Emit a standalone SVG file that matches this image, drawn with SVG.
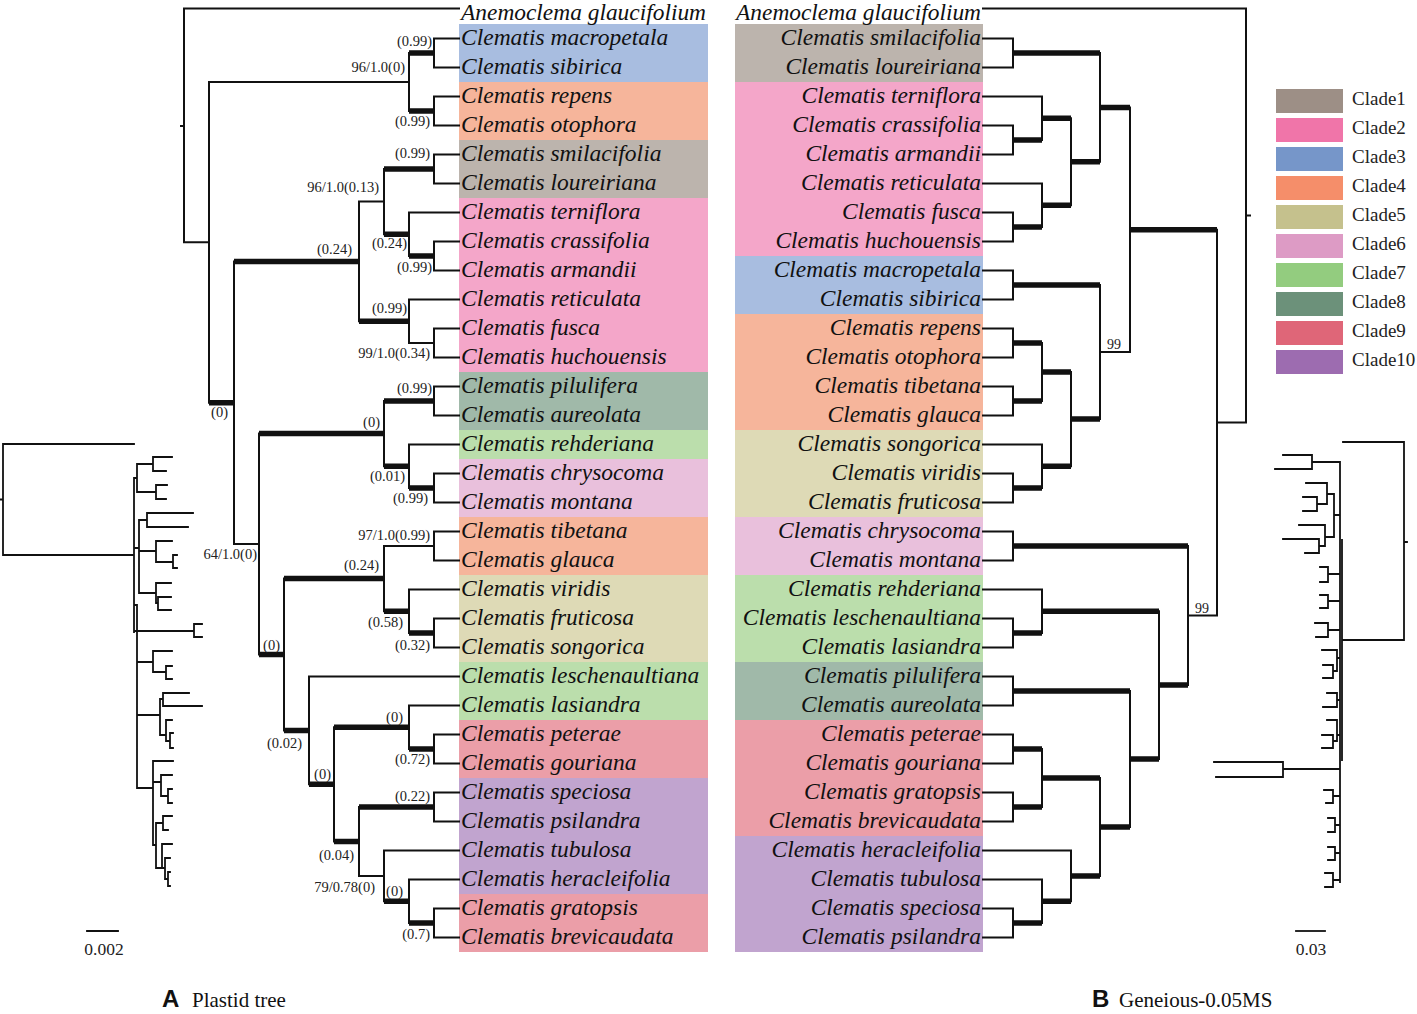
<svg xmlns="http://www.w3.org/2000/svg" width="1417" height="1014" viewBox="0 0 1417 1014">
<style>
.tx{font-family:"Liberation Serif","Times New Roman",serif;font-style:italic;font-size:23.5px;fill:#111}
.txr{font-family:"Liberation Serif","Times New Roman",serif;font-style:italic;font-size:23.5px;fill:#111;text-anchor:end}
.top{font-size:22.4px}
.lb{font-family:"Liberation Serif","Times New Roman",serif;font-size:14.5px;fill:#222;text-anchor:end}
.lbs{font-family:"Liberation Serif","Times New Roman",serif;font-size:14px;fill:#222}
.lg{font-family:"Liberation Serif","Times New Roman",serif;font-size:19px;fill:#222}
.sc{font-family:"Liberation Serif","Times New Roman",serif;font-size:17.5px;fill:#222;text-anchor:middle}
.pa{font-family:"Liberation Sans",Arial,sans-serif;font-weight:bold;font-size:24px;fill:#111}
.pt{font-family:"Liberation Serif","Times New Roman",serif;font-size:21px;fill:#111}
.thin{fill:none;stroke:#111;stroke-width:2;stroke-linecap:square}
.thick{fill:none;stroke:#111;stroke-width:5.5;stroke-linecap:butt}
.sm{fill:none;stroke:#111;stroke-width:1.8;stroke-linecap:square}
.c1{fill:#bcb4ad}.c2{fill:#f4a6c9}.c3{fill:#a8bde0}.c4{fill:#f6b59b}.c5{fill:#dedab6}
.c6{fill:#e9c0dc}.c7{fill:#bbdeac}.c8{fill:#a0b9a9}.c9{fill:#eb9ea8}.c10{fill:#c1a4cf}
.l1{fill:#9d8f86}.l2{fill:#f075a9}.l3{fill:#7696c9}.l4{fill:#f58e6a}.l5{fill:#c5c18d}
.l6{fill:#dd9bc5}.l7{fill:#93cc7f}.l8{fill:#6c917a}.l9{fill:#df6678}.l10{fill:#9d6cb0}
</style>
<rect width="1417" height="1014" fill="#ffffff"/>

<g id="bands-left">
<rect class="c3" x="459" y="24" width="249" height="58"/>
<rect class="c4" x="459" y="82" width="249" height="58"/>
<rect class="c1" x="459" y="140" width="249" height="58"/>
<rect class="c2" x="459" y="198" width="249" height="174"/>
<rect class="c8" x="459" y="372" width="249" height="58"/>
<rect class="c7" x="459" y="430" width="249" height="29"/>
<rect class="c6" x="459" y="459" width="249" height="58"/>
<rect class="c4" x="459" y="517" width="249" height="58"/>
<rect class="c5" x="459" y="575" width="249" height="87"/>
<rect class="c7" x="459" y="662" width="249" height="58"/>
<rect class="c9" x="459" y="720" width="249" height="58"/>
<rect class="c10" x="459" y="778" width="249" height="116"/>
<rect class="c9" x="459" y="894" width="249" height="58"/>
</g>
<g id="bands-right">
<rect class="c1" x="735" y="24" width="248" height="58"/>
<rect class="c2" x="735" y="82" width="248" height="174"/>
<rect class="c3" x="735" y="256" width="248" height="58"/>
<rect class="c4" x="735" y="314" width="248" height="116"/>
<rect class="c5" x="735" y="430" width="248" height="87"/>
<rect class="c6" x="735" y="517" width="248" height="58"/>
<rect class="c7" x="735" y="575" width="248" height="87"/>
<rect class="c8" x="735" y="662" width="248" height="58"/>
<rect class="c9" x="735" y="720" width="248" height="116"/>
<rect class="c10" x="735" y="836" width="248" height="116"/>
</g>

<g id="connectors">
<path class="thin" d="M184,8.5V242.3 M209,82V402.7 M409,53V111 M434,38.5V67.5 M434,96.5V125.5 M234,261.4V544 M359,201.6V321.25 M384,169V234.25 M434,154.5V183.5 M409,212.5V256 M434,241.5V270.5 M409,299.5V343 M434,328.5V357.5 M259,433.6V654.5 M384,401V466.25 M434,386.5V415.5 M409,444.5V488 M434,473.5V502.5 M284,578.6V730.4 M384,546V611.25 M434,531.5V560.5 M409,589.5V633 M434,618.5V647.5 M309,676.5V784.3 M334,727.25V841.4 M409,705.5V749 M434,734.5V763.5 M359,807V875.9 M434,792.5V821.5 M384,850.5V901.25 M409,879.5V923 M434,908.5V937.5
M184,8.5H459 M184,242.3H209 M209,82H409 M359,201.6H384 M409,343H434 M234,544H259 M384,546H434 M359,875.9H384 M181,125.9H184
M434,38.5H459 M434,67.5H459 M434,96.5H459 M434,125.5H459 M434,154.5H459 M434,183.5H459 M409,212.5H459 M434,241.5H459 M434,270.5H459 M409,299.5H459 M434,328.5H459 M434,357.5H459 M434,386.5H459 M434,415.5H459 M409,444.5H459 M434,473.5H459 M434,502.5H459 M434,531.5H459 M434,560.5H459 M409,589.5H459 M434,618.5H459 M434,647.5H459 M309,676.5H459 M409,705.5H459 M434,734.5H459 M434,763.5H459 M434,792.5H459 M434,821.5H459 M384,850.5H459 M409,879.5H459 M434,908.5H459 M434,937.5H459"/>
<path class="thick" d="M409,53H434 M409,111H434 M384,169H434 M409,256H434 M384,234.25H409 M359,321.25H409 M234,261.4H359 M209,402.7H234 M384,401H434 M409,488H434 M384,466.25H409 M259,433.6H384 M409,633H434 M384,611.25H409 M284,578.6H384 M409,749H434 M334,727.25H409 M359,807H434 M409,923H434 M384,901.25H409 M334,841.4H359 M309,784.3H334 M284,730.4H309 M259,654.5H284"/>

<path class="thin" d="M1246,8.5V422.6 M1217,229.7V615.6 M1130,107.4V352 M1100,53V161.75 M1013,38.5V67.5 M1071,118.25V205.25 M1042,96.5V140 M1013,125.5V154.5 M1042,183.5V227 M1013,212.5V241.5 M1100,285V419.1 M1013,270.5V299.5 M1071,372V466.25 M1042,343V401 M1013,328.5V357.5 M1013,386.5V415.5 M1042,444.5V488 M1013,473.5V502.5 M1188,546V685.1 M1013,531.5V560.5 M1159,611.25V759 M1042,589.5V633 M1013,618.5V647.5 M1130,691V826.9 M1013,676.5V705.5 M1100,778V875.9 M1042,749V807 M1013,734.5V763.5 M1013,792.5V821.5 M1071,850.5V901.25 M1042,879.5V923 M1013,908.5V937.5
M983,8.5H1246 M1100,352H1130 M1188,615.6H1217 M1217,422.6H1246 M1246,215.6H1250
M983,38.5H1013 M983,67.5H1013 M983,96.5H1042 M983,125.5H1013 M983,154.5H1013 M983,183.5H1042 M983,212.5H1013 M983,241.5H1013 M983,270.5H1013 M983,299.5H1013 M983,328.5H1013 M983,357.5H1013 M983,386.5H1013 M983,415.5H1013 M983,444.5H1042 M983,473.5H1013 M983,502.5H1013 M983,531.5H1013 M983,560.5H1013 M983,589.5H1042 M983,618.5H1013 M983,647.5H1013 M983,676.5H1013 M983,705.5H1013 M983,734.5H1013 M983,763.5H1013 M983,792.5H1013 M983,821.5H1013 M983,850.5H1071 M983,879.5H1042 M983,908.5H1013 M983,937.5H1013"/>
<path class="thick" d="M1013,53H1100 M1013,140H1042 M1042,118.25H1071 M1013,227H1042 M1042,205.25H1071 M1071,161.75H1100 M1100,107.4H1130 M1013,285H1100 M1013,343H1042 M1013,401H1042 M1042,372H1071 M1013,488H1042 M1042,466.25H1071 M1071,419.1H1100 M1130,229.7H1217 M1013,546H1188 M1013,633H1042 M1042,611.25H1159 M1013,691H1130 M1013,749H1042 M1013,807H1042 M1042,778H1100 M1013,923H1042 M1042,901.25H1071 M1071,875.9H1100 M1100,826.9H1130 M1130,759H1159 M1159,685.1H1188"/>
</g>

<g id="support-left">
<text class="lb" x="432" y="46">(0.99)</text>
<text class="lb" x="405" y="72">96/1.0(0)</text>
<text class="lb" x="430" y="126">(0.99)</text>
<text class="lb" x="430" y="158">(0.99)</text>
<text class="lb" x="379" y="192">96/1.0(0.13)</text>
<text class="lb" x="352" y="254">(0.24)</text>
<text class="lb" x="407" y="248">(0.24)</text>
<text class="lb" x="432" y="272">(0.99)</text>
<text class="lb" x="407" y="313">(0.99)</text>
<text class="lb" x="430" y="358">99/1.0(0.34)</text>
<text class="lb" x="228" y="417">(0)</text>
<text class="lb" x="432" y="393">(0.99)</text>
<text class="lb" x="380" y="427">(0)</text>
<text class="lb" x="405" y="481">(0.01)</text>
<text class="lb" x="428" y="503">(0.99)</text>
<text class="lb" x="430" y="540">97/1.0(0.99)</text>
<text class="lb" x="257" y="559">64/1.0(0)</text>
<text class="lb" x="379" y="570">(0.24)</text>
<text class="lb" x="280" y="650">(0)</text>
<text class="lb" x="403" y="627">(0.58)</text>
<text class="lb" x="430" y="650">(0.32)</text>
<text class="lb" x="302" y="748">(0.02)</text>
<text class="lb" x="403" y="722">(0)</text>
<text class="lb" x="430" y="764">(0.72)</text>
<text class="lb" x="331" y="779">(0)</text>
<text class="lb" x="430" y="801">(0.22)</text>
<text class="lb" x="354" y="860">(0.04)</text>
<text class="lb" x="375" y="892">79/0.78(0)</text>
<text class="lb" x="403" y="896">(0)</text>
<text class="lb" x="430" y="939">(0.7)</text>
</g>
<g id="support-right">
<text class="lbs" x="1107" y="349">99</text>
<text class="lbs" x="1195" y="613">99</text>
</g>

<g id="taxa-left">
<g id="L00"><text class="tx top" x="461" y="20" textLength="245" lengthAdjust="spacingAndGlyphs">Anemoclema glaucifolium</text></g>
<g id="L01"><text class="tx" x="461" y="45">Clematis macropetala</text></g>
<g id="L02"><text class="tx" x="461" y="74">Clematis sibirica</text></g>
<g id="L03"><text class="tx" x="461" y="103">Clematis repens</text></g>
<g id="L04"><text class="tx" x="461" y="132">Clematis otophora</text></g>
<g id="L05"><text class="tx" x="461" y="161">Clematis smilacifolia</text></g>
<g id="L06"><text class="tx" x="461" y="190">Clematis loureiriana</text></g>
<g id="L07"><text class="tx" x="461" y="219">Clematis terniflora</text></g>
<g id="L08"><text class="tx" x="461" y="248">Clematis crassifolia</text></g>
<g id="L09"><text class="tx" x="461" y="277">Clematis armandii</text></g>
<g id="L10"><text class="tx" x="461" y="306">Clematis reticulata</text></g>
<g id="L11"><text class="tx" x="461" y="335">Clematis fusca</text></g>
<g id="L12"><text class="tx" x="461" y="364">Clematis huchouensis</text></g>
<g id="L13"><text class="tx" x="461" y="393">Clematis pilulifera</text></g>
<g id="L14"><text class="tx" x="461" y="422">Clematis aureolata</text></g>
<g id="L15"><text class="tx" x="461" y="451">Clematis rehderiana</text></g>
<g id="L16"><text class="tx" x="461" y="480">Clematis chrysocoma</text></g>
<g id="L17"><text class="tx" x="461" y="509">Clematis montana</text></g>
<g id="L18"><text class="tx" x="461" y="538">Clematis tibetana</text></g>
<g id="L19"><text class="tx" x="461" y="567">Clematis glauca</text></g>
<g id="L20"><text class="tx" x="461" y="596">Clematis viridis</text></g>
<g id="L21"><text class="tx" x="461" y="625">Clematis fruticosa</text></g>
<g id="L22"><text class="tx" x="461" y="654">Clematis songorica</text></g>
<g id="L23"><text class="tx" x="461" y="683">Clematis leschenaultiana</text></g>
<g id="L24"><text class="tx" x="461" y="712">Clematis lasiandra</text></g>
<g id="L25"><text class="tx" x="461" y="741">Clematis peterae</text></g>
<g id="L26"><text class="tx" x="461" y="770">Clematis gouriana</text></g>
<g id="L27"><text class="tx" x="461" y="799">Clematis speciosa</text></g>
<g id="L28"><text class="tx" x="461" y="828">Clematis psilandra</text></g>
<g id="L29"><text class="tx" x="461" y="857">Clematis tubulosa</text></g>
<g id="L30"><text class="tx" x="461" y="886">Clematis heracleifolia</text></g>
<g id="L31"><text class="tx" x="461" y="915">Clematis gratopsis</text></g>
<g id="L32"><text class="tx" x="461" y="944">Clematis brevicaudata</text></g>
</g>

<g id="taxa-right">
<g id="R00"><text class="txr top" x="981" y="20" textLength="245" lengthAdjust="spacingAndGlyphs">Anemoclema glaucifolium</text></g>
<g id="R01"><text class="txr" x="981" y="45">Clematis smilacifolia</text></g>
<g id="R02"><text class="txr" x="981" y="74">Clematis loureiriana</text></g>
<g id="R03"><text class="txr" x="981" y="103">Clematis terniflora</text></g>
<g id="R04"><text class="txr" x="981" y="132">Clematis crassifolia</text></g>
<g id="R05"><text class="txr" x="981" y="161">Clematis armandii</text></g>
<g id="R06"><text class="txr" x="981" y="190">Clematis reticulata</text></g>
<g id="R07"><text class="txr" x="981" y="219">Clematis fusca</text></g>
<g id="R08"><text class="txr" x="981" y="248">Clematis huchouensis</text></g>
<g id="R09"><text class="txr" x="981" y="277">Clematis macropetala</text></g>
<g id="R10"><text class="txr" x="981" y="306">Clematis sibirica</text></g>
<g id="R11"><text class="txr" x="981" y="335">Clematis repens</text></g>
<g id="R12"><text class="txr" x="981" y="364">Clematis otophora</text></g>
<g id="R13"><text class="txr" x="981" y="393">Clematis tibetana</text></g>
<g id="R14"><text class="txr" x="981" y="422">Clematis glauca</text></g>
<g id="R15"><text class="txr" x="981" y="451">Clematis songorica</text></g>
<g id="R16"><text class="txr" x="981" y="480">Clematis viridis</text></g>
<g id="R17"><text class="txr" x="981" y="509">Clematis fruticosa</text></g>
<g id="R18"><text class="txr" x="981" y="538">Clematis chrysocoma</text></g>
<g id="R19"><text class="txr" x="981" y="567">Clematis montana</text></g>
<g id="R20"><text class="txr" x="981" y="596">Clematis rehderiana</text></g>
<g id="R21"><text class="txr" x="981" y="625">Clematis leschenaultiana</text></g>
<g id="R22"><text class="txr" x="981" y="654">Clematis lasiandra</text></g>
<g id="R23"><text class="txr" x="981" y="683">Clematis pilulifera</text></g>
<g id="R24"><text class="txr" x="981" y="712">Clematis aureolata</text></g>
<g id="R25"><text class="txr" x="981" y="741">Clematis peterae</text></g>
<g id="R26"><text class="txr" x="981" y="770">Clematis gouriana</text></g>
<g id="R27"><text class="txr" x="981" y="799">Clematis gratopsis</text></g>
<g id="R28"><text class="txr" x="981" y="828">Clematis brevicaudata</text></g>
<g id="R29"><text class="txr" x="981" y="857">Clematis heracleifolia</text></g>
<g id="R30"><text class="txr" x="981" y="886">Clematis tubulosa</text></g>
<g id="R31"><text class="txr" x="981" y="915">Clematis speciosa</text></g>
<g id="R32"><text class="txr" x="981" y="944">Clematis psilandra</text></g>
</g>

<g id="legend">
<rect class="l1" x="1276" y="89" width="67" height="24"/><text class="lg" x="1352" y="105">Clade1</text>
<rect class="l2" x="1276" y="118" width="67" height="24"/><text class="lg" x="1352" y="134">Clade2</text>
<rect class="l3" x="1276" y="147" width="67" height="24"/><text class="lg" x="1352" y="163">Clade3</text>
<rect class="l4" x="1276" y="176" width="67" height="24"/><text class="lg" x="1352" y="192">Clade4</text>
<rect class="l5" x="1276" y="205" width="67" height="24"/><text class="lg" x="1352" y="221">Clade5</text>
<rect class="l6" x="1276" y="234" width="67" height="24"/><text class="lg" x="1352" y="250">Clade6</text>
<rect class="l7" x="1276" y="263" width="67" height="24"/><text class="lg" x="1352" y="279">Clade7</text>
<rect class="l8" x="1276" y="292" width="67" height="24"/><text class="lg" x="1352" y="308">Clade8</text>
<rect class="l9" x="1276" y="321" width="67" height="24"/><text class="lg" x="1352" y="337">Clade9</text>
<rect class="l10" x="1276" y="350" width="67" height="24"/><text class="lg" x="1352" y="366">Clade10</text>
</g>

<g id="small-tree-left">
<path class="sm" d="M3,444V555 M3,444H134 M3,555H134 M0,499.5H3 M134,478V632
M134,478H137 M137,464V492 M137,464H153 M153,457V471 M153,457H172 M153,471H166 M137,492H156 M156,485V499 M156,485H167 M156,499H166
M134,548H139 M139,520V593 M139,520H147 M147,513V527 M147,513H193 M147,527H188 M139,551H156 M156,541V562 M156,541H172 M156,562H173 M173,555V568 M173,555H177 M173,568H177 M139,593H156 M156,583V603 M156,583H171 M156,603H158 M158,597V610 M158,597H171 M158,610H171
M134,631H194 M194,624V637 M194,624H202 M194,637H202 M134,605H137 M137,605V788 M137,662H153 M153,651V672 M153,651H172 M153,672H166 M166,666V679 M166,666H172 M166,679H172
M137,715H160 M160,699V735 M160,699H163 M163,693V706 M163,693H189 M163,706H202 M160,735H166 M166,720V741 M166,720H172 M166,741H170 M170,733V748 M170,733H173 M170,748H173
M137,788H153 M153,761V845 M153,761H173 M153,782H161 M161,775V796 M161,775H172 M161,796H168 M168,789V803 M168,789H172 M168,803H172 M153,845H156 M156,823V868 M156,823H163 M163,816V830 M163,816H172 M163,830H168 M156,868H162 M162,844V868 M162,844H172 M162,868H165 M165,858V879 M165,858H170 M165,879H168 M168,872V886 M168,872H170 M168,886H170"/>
<path class="sm" d="M87,931H118"/>
<text class="sc" x="104" y="955">0.002</text>
</g>

<g id="small-tree-right">
<path class="sm" d="M1404,442V640 M1404,442H1343 M1404,640H1342 M1404,542H1407 M1340,462V882 M1342,540V760
M1340,462H1312 M1312,455V469 M1312,455H1283 M1312,469H1275
M1340,515H1334 M1334,494V537 M1334,494H1327 M1327,483V504 M1327,483H1306 M1327,504H1317 M1317,497V511 M1317,497H1303 M1317,511H1303
M1334,537H1325 M1325,525V546 M1325,525H1299 M1325,546H1319 M1319,539V553 M1319,539H1283 M1319,553H1305
M1340,574H1328 M1328,567V582 M1328,567H1320 M1328,582H1320
M1340,601H1328 M1328,595V608 M1328,595H1320 M1328,608H1320
M1340,630H1328 M1328,623V637 M1328,623H1315 M1328,637H1316
M1340,658H1337 M1337,650V671 M1337,650H1322 M1337,671H1333 M1333,665V678 M1333,665H1323 M1333,678H1323
M1340,700H1337 M1337,693V707 M1337,693H1327 M1337,707H1323
M1340,735H1337 M1337,720V741 M1337,720H1327 M1337,741H1333 M1333,735V748 M1333,735H1322 M1333,748H1322
M1340,769H1283 M1283,762V777 M1283,762H1214 M1283,777H1216
M1340,796H1333 M1333,790V803 M1333,790H1324 M1333,803H1326
M1340,825H1335 M1335,818V832 M1335,818H1328 M1335,832H1328
M1340,853H1335 M1335,847V860 M1335,847H1328 M1335,860H1328
M1340,880H1333 M1333,873V887 M1333,873H1325 M1333,887H1325"/>
<path class="sm" d="M1296,931H1325"/>
<text class="sc" x="1311" y="955">0.03</text>
</g>

<g id="panel-labels">
<text class="pa" x="162" y="1007">A</text><text class="pt" x="192" y="1007">Plastid tree</text>
<text class="pa" x="1092" y="1007">B</text><text class="pt" x="1119" y="1007">Geneious-0.05MS</text>
</g>
</svg>
